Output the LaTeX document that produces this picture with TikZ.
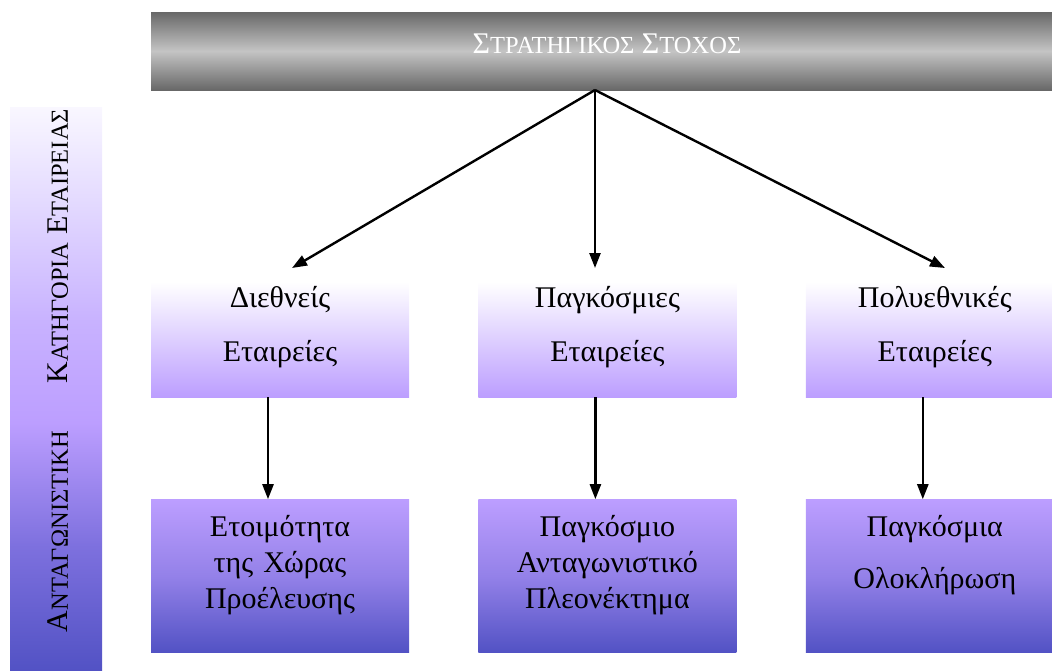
\documentclass[tikz,border=0pt]{standalone}
\usepackage{fontspec}
\setmainfont{Liberation Serif}
\usetikzlibrary{arrows.meta,positioning}

\definecolor{barDark}{RGB}{104,104,104}
\definecolor{barLight}{RGB}{196,196,196}
\definecolor{lavender}{RGB}{188,158,255}
\definecolor{deepBlue}{RGB}{82,82,196}
\definecolor{sideMid}{RGB}{125,112,222}
\definecolor{sideLight}{RGB}{200,178,255}
\definecolor{sidePale}{RGB}{226,216,255}
\definecolor{sideTop}{RGB}{249,247,255}

\pgfdeclareverticalshading{sidefade}{100bp}{color(0bp)=(deepBlue); color(25bp)=(deepBlue);
  color(36bp)=(sideMid); color(47bp)=(lavender); color(56bp)=(sideLight);
  color(66bp)=(sidePale); color(75bp)=(sideTop); color(100bp)=(sideTop)}

% big first letter, smaller capitals after it
\newcommand{\capword}[2]{{\fontsize{30}{36}\selectfont #1}{\fontsize{24.5}{36}\selectfont #2}}

\begin{document}
\begin{tikzpicture}[
  x=1pt, y=-1pt,
  font=\fontsize{30}{36}\selectfont,
  node distance=102pt and 69pt,
  goalbar/.style={rectangle, minimum width=912pt, minimum height=78pt, inner sep=0pt,
    top color=barDark, bottom color=barDark, middle color=barLight, text=white,
    text height=21pt, text depth=16pt},
  sidebar/.style={rectangle, minimum width=92pt, minimum height=564pt, inner sep=0pt, shade, shading=sidefade},
  typebox/.style={rectangle, minimum width=258pt, minimum height=115pt, inner sep=0pt,
    top color=white, bottom color=lavender, text width=258pt, align=center,
    font=\fontsize{30}{54}\selectfont, text height=21pt, text depth=86pt},
  gapbox/.style={rectangle, minimum width=258pt, minimum height=153pt, inner sep=0pt,
    top color=lavender, bottom color=deepBlue, middle color=lavender!62!deepBlue,
    text width=258pt, align=center, font=\fontsize{30}{36}\selectfont,
    text height=21pt, text depth=100pt},
  arr/.style={-{Triangle[length=15pt,width=11pt]}, line width=2.4pt}
]
\clip (0,0) rectangle (1052,670);

\node[goalbar] (goal) at (607,51) {\capword{Σ}{ΤΡΑΤΗΓΙΚΟΣ} \capword{Σ}{ΤΟΧΟΣ}};
\node[sidebar] (side) at (56,389) {};
\node[rotate=90] (sidetext) at (58,370.5)
  {\capword{Α}{ΝΤΑΓΩΝΙΣΤΙΚΗ}\hspace{48pt}\capword{Κ}{ΑΤΗΓΟΡΙΑ} \capword{Ε}{ΤΑΙΡΕΙΑΣ}};

% company categories
\node[typebox] (intl) at (280,339.5) {Διεθνείς\\Εταιρείες};
\node[typebox, right=of intl] (global) {Παγκόσμιες\\Εταιρείες};
\node[typebox, right=of global] (multi) {Πολυεθνικές\\Εταιρείες};

% competitive advantage
\node[gapbox, below=of intl] (ready) {Ετοιμότητα\\της Χώρας\\Προέλευσης};
\node[gapbox, below=of global] (advantage) {Παγκόσμιο\\Ανταγωνιστικό\\Πλεονέκτημα};
\node[gapbox, below=of multi] (integr) {Παγκόσμια\\[16pt]Ολοκλήρωση};

\coordinate (split) at (595,90);
\coordinate (toIntl) at (292,268);
\coordinate (toGlobal) at (595,268);
\coordinate (toMulti) at (945,268);

\draw[arr] (split) -- (toIntl);
\draw[arr] (split) -- (toGlobal);
\draw[arr] (split) -- (toMulti);

\draw[arr] ([xshift=-12pt]intl.south) -- ([xshift=-12pt]ready.north);
\draw[arr] ([xshift=-12pt]global.south) -- ([xshift=-12pt]advantage.north);
\draw[arr] ([xshift=-12pt]multi.south) -- ([xshift=-12pt]integr.north);
\end{tikzpicture}
\end{document}
